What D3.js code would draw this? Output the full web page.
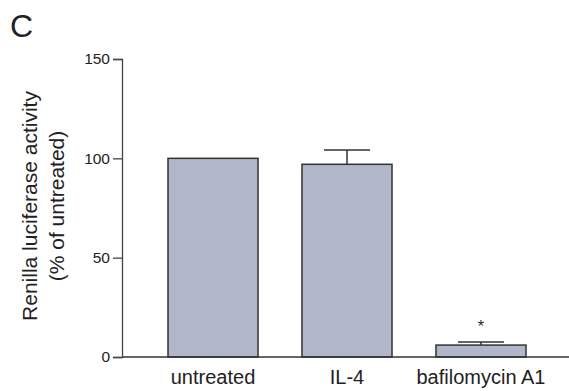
<!DOCTYPE html>
<html>
<head>
<meta charset="utf-8">
<script src="https://cdn.jsdelivr.net/npm/d3@7"></script>
<style>
  body { margin: 0; background: #fff; }
  text { font-family: Arial, "Liberation Sans", sans-serif; fill: #222; }
</style>
</head>
<body>
<div id="chart"></div>
<script>
var categories = ['untreated', 'IL-4', 'bafilomycin A1'];
var values = [100, 97, 6];
var errors = [0, 7.2, 1.5];
var stars = ['', '', '*'];
var yTicks = [0, 50, 100, 150];

var width = 569, height = 391;

var svg = d3.select('#chart').append('svg')
    .attr('width', width)
    .attr('height', height);

var y = d3.scaleLinear().domain([0, 150]).range([357, 59]);
var x = d3.scaleBand().domain(categories).range([168, 526]).paddingInner(0.328).paddingOuter(0);

// bars
svg.selectAll('rect.bar')
    .data(categories)
    .enter().append('rect')
    .attr('class', 'bar')
    .attr('x', function(d) { return x(d); })
    .attr('y', function(d, i) { return y(values[i]); })
    .attr('width', x.bandwidth())
    .attr('height', function(d, i) { return y(0) - y(values[i]); })
    .attr('fill', '#b1b6c8')
    .attr('stroke', '#333')
    .attr('stroke-width', 1.5);

// error bars
var capW = 46;
categories.forEach(function(c, i) {
    if (!errors[i]) return;
    var cx = x(c) + x.bandwidth() / 2;
    svg.append('line')
        .attr('x1', cx).attr('x2', cx)
        .attr('y1', y(values[i])).attr('y2', y(values[i] + errors[i]))
        .attr('stroke', '#333').attr('stroke-width', 1.5);
    svg.append('line')
        .attr('x1', cx - capW / 2).attr('x2', cx + capW / 2)
        .attr('y1', y(values[i] + errors[i])).attr('y2', y(values[i] + errors[i]))
        .attr('stroke', '#333').attr('stroke-width', 1.5);
    if (stars[i]) {
        svg.append('text')
            .attr('x', cx).attr('y', y(values[i] + errors[i]) - 10)
            .attr('text-anchor', 'middle')
            .style('font-size', '16px')
            .text(stars[i]);
    }
});

// x axis baseline
svg.append('line')
    .attr('x1', 122).attr('x2', width)
    .attr('y1', y(0)).attr('y2', y(0))
    .attr('stroke', '#333').attr('stroke-width', 1.5);

// x labels
svg.selectAll('text.xl')
    .data(categories)
    .enter().append('text')
    .attr('class', 'xl')
    .attr('x', function(d) { return x(d) + x.bandwidth() / 2; })
    .attr('y', 384)
    .attr('text-anchor', 'middle')
    .style('font-size', '20px')
    .text(function(d) { return d; });

// y axis
var axisY = d3.axisLeft(y).tickValues(yTicks).tickSize(9).tickPadding(3);
var gy = svg.append('g')
    .attr('transform', 'translate(122,0)')
    .call(axisY);
gy.select('.domain').attr('stroke', '#444').attr('stroke-width', 1.3);
gy.selectAll('.tick line').attr('stroke', '#444').attr('stroke-width', 1.3);
gy.selectAll('.tick text')
    .style('font-size', '15.5px')
    .style('font-family', 'Arial, "Liberation Sans", sans-serif')
    .attr('fill', '#222');

// y label
var yl = svg.append('text')
    .attr('transform', 'translate(37,206) rotate(-90)')
    .attr('text-anchor', 'middle')
    .style('font-size', '21px');
yl.append('tspan').attr('x', 0).attr('dy', 0).text('Renilla luciferase activity');
yl.append('tspan').attr('x', 0).attr('dy', 27).text('(% of untreated)');

// panel letter
svg.append('text')
    .attr('x', 10).attr('y', 37)
    .style('font-size', '32px')
    .text('C');
</script>
</body>
</html>
